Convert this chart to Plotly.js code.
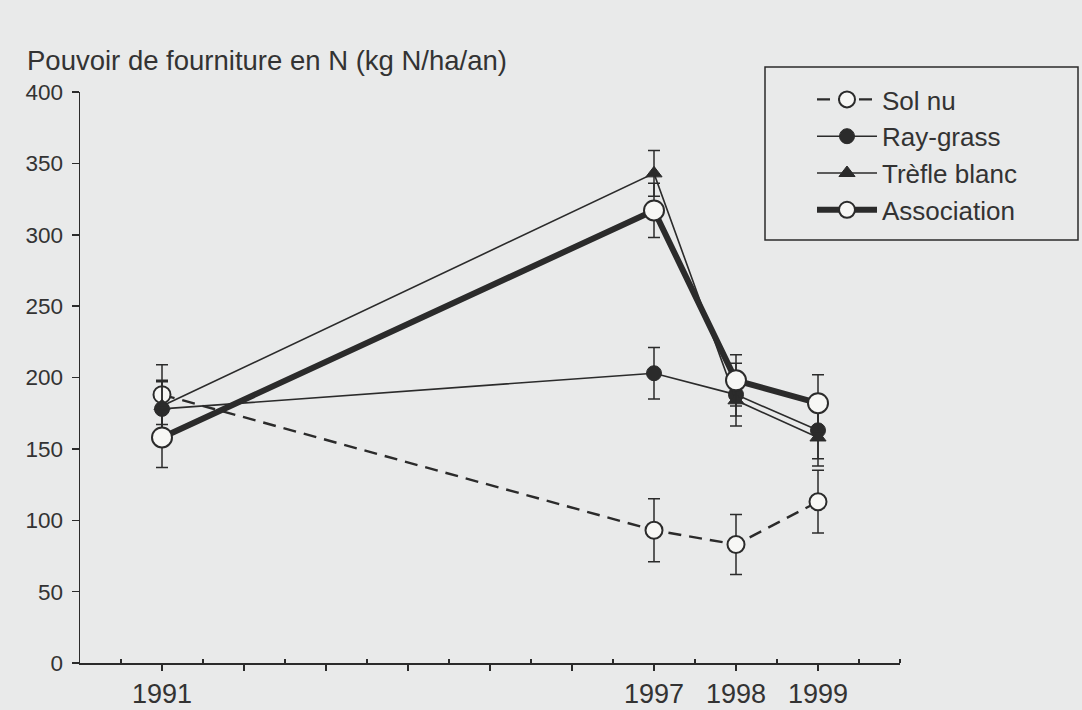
<!DOCTYPE html>
<html>
<head>
<meta charset="utf-8">
<script src="https://cdn.plot.ly/plotly-3.0.1.min.js"></script>
<style>
html,body{margin:0;padding:0;background:#e9eaea;}
#chart{width:1082px;height:710px;}
</style>
</head>
<body>
<div id="chart"></div>
<script>
// Data
var years = [1991, 1997, 1998, 1999];
var solNu = [188, 93, 83, 113];
var solNuErr = [21, 22, 21, 22];
var rayGrass = [178, 203, 188, 163];
var rayGrassErr = [19, 18, 22, 20];
var trefle = [180, 343, 184, 158];
var trefleErr = [18, 16, 11, 20];
var association = [158, 317, 198, 182];
var associationErr = [21, 19, 18, 20];

var seriesNames = ["Sol nu", "Ray-grass", "Trèfle blanc", "Association"];
var majorTickVals = [1991, 1992, 1993, 1994, 1995, 1996, 1997, 1998, 1999];
var majorTickText = ["1991", "", "", "", "", "", "1997", "1998", "1999"];
var minorTickVals = [1990.5, 1991.5, 1992.5, 1993.5, 1994.5, 1995.5, 1996.5, 1997.5, 1998.5, 1999.5, 2000];
var yTickVals = [0, 50, 100, 150, 200, 250, 300, 350, 400];

var ink = "#2b2b2b";
var bg = "#e9eaea";
var font = "Liberation Sans, Arial, Helvetica, sans-serif";

function err(a) {
  return {type: "data", array: a, visible: true, color: ink, thickness: 1.5, width: 6};
}

var traces = [
  {
    x: years, y: solNu, name: seriesNames[0], mode: "lines+markers",
    line: {color: ink, width: 2.4, dash: "13px,8px"},
    marker: {symbol: "circle", size: 17, color: "#f7f7f5", line: {color: ink, width: 2}},
    error_y: err(solNuErr)
  },
  {
    x: years, y: rayGrass, name: seriesNames[1], mode: "lines+markers",
    line: {color: ink, width: 1.6},
    marker: {symbol: "circle", size: 15, color: ink, line: {color: ink, width: 1}},
    error_y: err(rayGrassErr)
  },
  {
    x: years, y: trefle, name: seriesNames[2], mode: "lines+markers",
    line: {color: ink, width: 1.6},
    marker: {symbol: "triangle-up", size: 14, color: ink, line: {color: ink, width: 1}},
    error_y: err(trefleErr)
  },
  {
    x: years, y: association, name: seriesNames[3], mode: "lines+markers",
    line: {color: ink, width: 6},
    marker: {symbol: "circle", size: 20, color: "#f7f7f5", line: {color: ink, width: 2}},
    error_y: err(associationErr)
  }
];

var layout = {
  width: 1082, height: 710,
  paper_bgcolor: bg, plot_bgcolor: bg,
  margin: {l: 80, r: 182, t: 92, b: 47, pad: 0},
  font: {family: font, color: "#333"},
  showlegend: true,
  title: {
    text: "Pouvoir de fourniture en N (kg N/ha/an)",
    font: {family: font, size: 27.5, color: "#333"},
    x: 27 / 1082, xanchor: "left", xref: "container",
    y: 1 - 60 / 710, yanchor: "middle", yref: "container"
  },
  xaxis: {
    range: [1990, 2000], showgrid: false, zeroline: false,
    showline: true, linecolor: ink, linewidth: 1.5,
    tickmode: "array", tickvals: majorTickVals, ticktext: majorTickText,
    ticks: "outside", ticklen: 6, tickwidth: 1.5, tickcolor: ink,
    tickfont: {family: font, size: 27, color: "#333"},
    minor: {tickvals: minorTickVals, ticks: "inside", ticklen: 4, tickwidth: 1.5, tickcolor: ink, showgrid: false},
    fixedrange: true
  },
  yaxis: {
    range: [0, 400], showgrid: false, zeroline: false,
    showline: true, linecolor: ink, linewidth: 1.5,
    tickmode: "array", tickvals: yTickVals,
    ticks: "outside", ticklen: 7, tickwidth: 1.5, tickcolor: ink,
    ticklabelstandoff: 4,
    tickfont: {family: font, size: 22.5, color: "#333"},
    fixedrange: true
  },
  legend: {
    x: (812 - 80) / 820, xanchor: "left", xref: "paper",
    y: (663 - 76) / 571, yanchor: "top", yref: "paper",
    bgcolor: "rgba(0,0,0,0)", borderwidth: 0,
    itemwidth: 60,
    font: {family: font, size: 26, color: "#333"},
    tracegroupgap: 0
  },
  shapes: [{
    type: "rect", xref: "paper", yref: "paper",
    x0: (765 - 80) / 820, x1: (1078 - 80) / 820,
    y0: (663 - 240) / 571, y1: (663 - 67) / 571,
    line: {color: ink, width: 1.5}, fillcolor: "rgba(0,0,0,0)"
  }]
};

Plotly.newPlot("chart", traces, layout, {displayModeBar: false, staticPlot: true});
</script>
</body>
</html>
